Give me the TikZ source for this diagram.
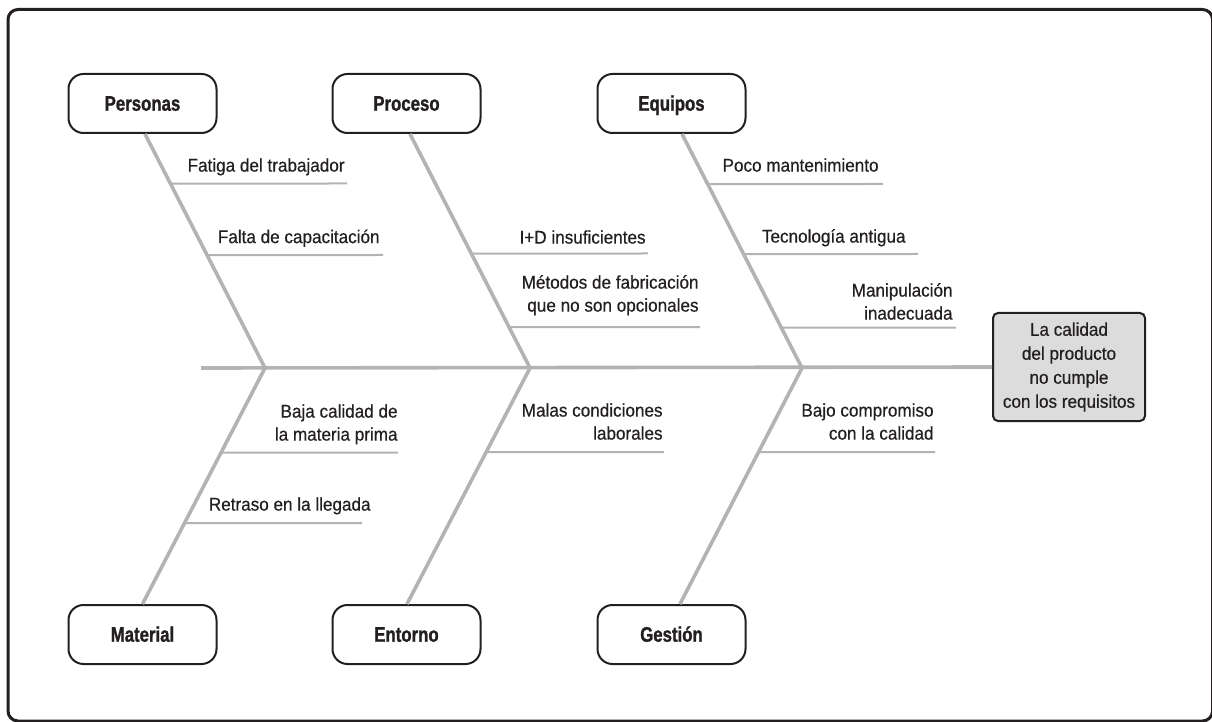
\documentclass[tikz,border=0pt]{standalone}
\usepackage{fontspec}
\setmainfont{Liberation Sans}[FakeStretch=0.93, FakeBold=0.5]
\newfontfamily\catfont{Liberation Sans Bold}[FakeStretch=0.8, FakeBold=1.2]
\definecolor{bonegray}{HTML}{B3B3B3}
\definecolor{ink}{HTML}{231F20}
\definecolor{effectfill}{HTML}{DCDCDC}
\begin{document}
\begin{tikzpicture}[x=0.5pt,y=-0.5pt,
  cat/.style={draw=ink, line width=1pt, rounded corners=7.5pt, minimum width=74pt, minimum height=29.5pt, inner sep=0pt, text=ink, text height=7.6pt, text depth=0.4pt, font=\catfont\fontsize{10.5}{12}\selectfont},
  effect/.style={draw=ink, fill=effectfill, line width=1pt, rounded corners=2.5pt, minimum width=76pt, minimum height=54pt, inner sep=0pt, align=center, text=ink, font=\fontsize{9.2}{12}\selectfont},
  cause/.style={anchor=south east, inner sep=0pt, text depth=0pt, align=right, text=ink, font=\fontsize{9.2}{11.5}\selectfont},
  bone/.style={draw=bonegray, line width=1.8pt},
  twig/.style={draw=bonegray, line width=1pt},
]
\useasboundingbox (0,0) rectangle (1212,722);
% outer frame
\draw[ink, line width=1.5pt, rounded corners=5pt] (8,9.5) rectangle (1212.5,721);

% category boxes
\node[cat] (personas) at (142.5,103.5) {Personas};
\node[cat] (proceso)  at (406.5,103.5) {Proceso};
\node[cat] (equipos)  at (671.5,103.5) {Equipos};
\node[cat] (material) at (142.5,634.5) {Material};
\node[cat] (entorno)  at (406.5,634.5) {Entorno};
\node[cat] (gestion)  at (671.5,634.5) {Gestión};

% effect
\node[effect] (effect) at (1069,367) {La calidad\\del producto\\no cumple\\con los requisitos};

% junctions and bone ends
\coordinate (j1) at (265,368);
\coordinate (j2) at (530,368);
\coordinate (j3) at (802,368);
\coordinate (pb) at ([xshift=1.25pt]personas.south);
\coordinate (rb) at ([xshift=1.75pt]proceso.south);
\coordinate (eb) at ([xshift=5.25pt]equipos.south);
\coordinate (mb) at ([xshift=0pt]material.north);
\coordinate (nb) at ([xshift=0.25pt]entorno.north);
\coordinate (gb) at ([xshift=4.25pt]gestion.north);
\coordinate (tail) at (201,368);

% spine and bones
\draw[bone] (tail) -- (effect.west);
\draw[bone] (pb) -- (j1) -- (mb);
\draw[bone] (rb) -- (j2) -- (nb);
\draw[bone] (eb) -- (j3) -- (gb);

% sub-causes
\draw[twig] (intersection of pb--j1 and 0,183.5--10,183.5) -- (347,183.5);
\draw[twig] (intersection of pb--j1 and 0,255--10,255) -- (383,255);
\draw[twig] (intersection of rb--j2 and 0,253.5--10,253.5) -- (648,253.5);
\draw[twig] (intersection of rb--j2 and 0,327--10,327) -- (700,327);
\draw[twig] (intersection of eb--j3 and 0,184--10,184) -- (883,184);
\draw[twig] (intersection of eb--j3 and 0,254--10,254) -- (918,254);
\draw[twig] (intersection of eb--j3 and 0,327.5--10,327.5) -- (956,327.5);
\draw[twig] (intersection of mb--j1 and 0,452.5--10,452.5) -- (398,452.5);
\draw[twig] (intersection of mb--j1 and 0,523--10,523) -- (362,523);
\draw[twig] (intersection of nb--j2 and 0,452--10,452) -- (664,452);
\draw[twig] (intersection of gb--j3 and 0,452--10,452) -- (935,452);

% labels
\node[cause] (c1)  at (345,172)   {Fatiga del trabajador};
\node[cause] (c2)  at (380,243.5) {Falta de capacitación};
\node[cause] (c3)  at (646,244)   {I+D insuficientes};
\node[cause] (c4)  at (699,312)   {Métodos de fabricación\\que no son opcionales};
\node[cause] (c5)  at (879,172)   {Poco mantenimiento};
\node[cause] (c6)  at (906,243)   {Tecnología antigua};
\node[cause] (c7)  at (953,320)   {Manipulación\\inadecuada};
\node[cause] (c8)  at (398,441)   {Baja calidad de\\la materia prima};
\node[cause] (c9)  at (371,511)   {Retraso en la llegada};
\node[cause] (c10) at (663,440)   {Malas condiciones\\laborales};
\node[cause] (c11) at (934,440)   {Bajo compromiso\\con la calidad};
\end{tikzpicture}
\end{document}
